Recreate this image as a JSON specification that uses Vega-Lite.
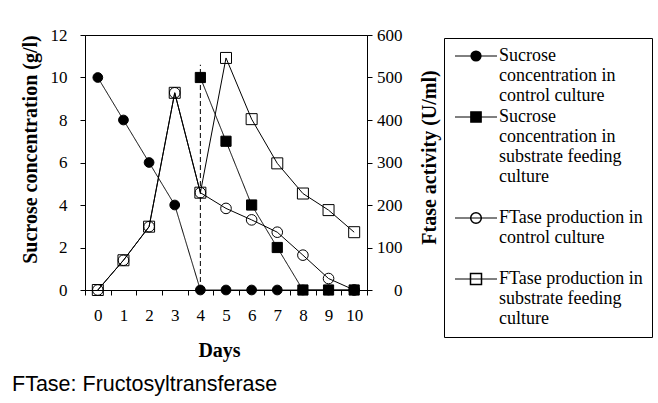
{
  "$schema": "https://vega.github.io/schema/vega-lite/v6.json",
  "width": 282,
  "height": 255,
  "autosize": {"type": "none"},
  "padding": {"left": 85, "top": 35, "right": 291, "bottom": 113},
  "background": "white",
  "title": {
    "text": "FTase: Fructosyltransferase",
    "orient": "bottom",
    "anchor": "start",
    "frame": "group",
    "font": "Liberation Sans",
    "fontSize": 21.5,
    "fontWeight": "normal",
    "color": "black",
    "dx": -73,
    "offset": 14
  },
  "config": {
    "view": {"stroke": "black", "strokeWidth": 1},
    "font": "Liberation Serif",
    "axis": {
      "labelFont": "Liberation Serif",
      "labelFontSize": 17,
      "labelColor": "black",
      "titleFont": "Liberation Serif",
      "titleFontSize": 20,
      "titleFontWeight": "bold",
      "titleColor": "black",
      "domainColor": "black",
      "tickColor": "black",
      "grid": false,
      "domainWidth": 1,
      "tickWidth": 1,
      "tickSize": 5
    },
    "legend": {
      "title": null,
      "orient": "none",
      "legendX": 359,
      "legendY": 3,
      "padding": 9,
      "labelFont": "Liberation Serif",
      "labelFontSize": 18,
      "labelLimit": 0,
      "labelOffset": 14,
      "symbolOffset": 14,
      "rowPadding": 3
    }
  },
  "datasets": {
    "sucrose": [
      {"day": 0, "series": "a", "key": "k1", "value": 10},
      {"day": 1, "series": "a", "key": "k1", "value": 8},
      {"day": 2, "series": "a", "key": "k1", "value": 6},
      {"day": 3, "series": "a", "key": "k1", "value": 4},
      {"day": 4, "series": "a", "key": "k1", "value": 0},
      {"day": 5, "series": "a", "key": "k1", "value": 0},
      {"day": 6, "series": "a", "key": "k1", "value": 0},
      {"day": 7, "series": "a", "key": "k1", "value": 0},
      {"day": 8, "series": "a", "key": "k1", "value": 0},
      {"day": 9, "series": "a", "key": "k1", "value": 0},
      {"day": 10, "series": "a", "key": "k1", "value": 0},
      {"day": 4, "series": "b", "key": "k2", "value": 10},
      {"day": 5, "series": "b", "key": "k2", "value": 7},
      {"day": 6, "series": "b", "key": "k2", "value": 4},
      {"day": 7, "series": "b", "key": "k2", "value": 2},
      {"day": 8, "series": "b", "key": "k2", "value": 0},
      {"day": 9, "series": "b", "key": "k2", "value": 0},
      {"day": 10, "series": "b", "key": "k2", "value": 0}
    ],
    "ftase": [
      {"day": 0, "series": "c", "value": 0},
      {"day": 1, "series": "c", "value": 70},
      {"day": 2, "series": "c", "value": 149},
      {"day": 3, "series": "c", "value": 464},
      {"day": 4, "series": "c", "value": 229},
      {"day": 5, "series": "c", "value": 192},
      {"day": 6, "series": "c", "value": 165},
      {"day": 7, "series": "c", "value": 136},
      {"day": 8, "series": "c", "value": 82},
      {"day": 9, "series": "c", "value": 27},
      {"day": 10, "series": "c", "value": 0},
      {"day": 0, "series": "d", "value": 0},
      {"day": 1, "series": "d", "value": 70},
      {"day": 2, "series": "d", "value": 149},
      {"day": 3, "series": "d", "value": 464},
      {"day": 4, "series": "d", "value": 229},
      {"day": 5, "series": "d", "value": 546},
      {"day": 6, "series": "d", "value": 402},
      {"day": 7, "series": "d", "value": 298},
      {"day": 8, "series": "d", "value": 227},
      {"day": 9, "series": "d", "value": 188},
      {"day": 10, "series": "d", "value": 136}
    ],
    "marker": [
      {"day": 4, "value": 0, "value2": 10.6}
    ]
  },
  "encoding": {
    "x": {
      "field": "day",
      "type": "ordinal",
      "scale": {"domain": [0, 1, 2, 3, 4, 5, 6, 7, 8, 9, 10], "paddingInner": 0, "paddingOuter": 0},
      "axis": {
        "title": "Days",
        "labelAngle": 0,
        "tickBand": "extent",
        "labelPadding": 12,
        "titleX": 134,
        "titleY": 60,
        "titleBaseline": "middle",
        "titleAlign": "center"
      }
    }
  },
  "layer": [
    {
      "encoding": {
        "y": {
          "field": "value",
          "type": "quantitative",
          "scale": {"domain": [0, 12]},
          "axis": {
            "title": "Sucrose concentration (g/l)",
            "orient": "left",
            "values": [0, 2, 4, 6, 8, 10, 12],
            "labelPadding": 13,
            "titleAngle": -90,
            "titleX": -55,
            "titleY": 114,
            "titleBaseline": "middle",
            "titleAlign": "center"
          }
        }
      },
      "layer": [
        {
          "data": {"name": "marker"},
          "mark": {"type": "rule", "color": "black", "strokeWidth": 1, "strokeDash": [5, 3]},
          "encoding": {"y2": {"field": "value2"}}
        },
        {
          "data": {"name": "sucrose"},
          "mark": {"type": "line", "color": "black", "strokeWidth": 1},
          "encoding": {
            "strokeDash": {
              "field": "key",
              "type": "nominal",
              "scale": {"domain": ["k1", "k2", "k3", "k4"], "range": [[1, 0], [1, 0], [1, 0], [1, 0]]},
              "legend": {
                "strokeColor": "black",
                "symbolType": "M-3,0H3",
                "symbolSize": 196,
                "symbolStrokeColor": "black",
                "symbolStrokeWidth": 1,
                "labelColor": "black",
                "labelExpr": "datum.value === 'k1' ? ['Sucrose', 'concentration in', 'control culture'] : datum.value === 'k2' ? ['Sucrose', 'concentration in', 'substrate feeding', 'culture', ''] : datum.value === 'k3' ? ['FTase production in', 'control culture', ''] : ['FTase production in', 'substrate feeding', 'culture']"
              }
            }
          }
        },
        {
          "data": {"name": "sucrose"},
          "mark": {"type": "point", "stroke": "black", "strokeWidth": 1, "opacity": 1},
          "encoding": {
            "shape": {
              "field": "series",
              "type": "nominal",
              "scale": {"domain": ["a", "b", "c", "d"], "range": ["circle", "square", "circle", "square"]},
              "legend": {
                "labelColor": "transparent",
                "labelExpr": "datum.value === 'a' ? ['Sucrose', 'concentration in', 'control culture'] : datum.value === 'b' ? ['Sucrose', 'concentration in', 'substrate feeding', 'culture', ''] : datum.value === 'c' ? ['FTase production in', 'control culture', ''] : ['FTase production in', 'substrate feeding', 'culture']"
              }
            },
            "fill": {
              "field": "series",
              "type": "nominal",
              "scale": {"domain": ["a", "b", "c", "d"], "range": ["black", "black", "transparent", "transparent"]}
            },
            "size": {
              "field": "series",
              "type": "nominal",
              "scale": {"domain": ["a", "b", "c", "d"], "range": [95, 121, 154, 196]}
            }
          }
        }
      ]
    },
    {
      "data": {"name": "ftase"},
      "encoding": {
        "y": {
          "field": "value",
          "type": "quantitative",
          "scale": {"domain": [0, 600]},
          "axis": {
            "title": "Ftase activity (U/ml)",
            "orient": "right",
            "values": [0, 100, 200, 300, 400, 500, 600],
            "labelAlign": "right",
            "labelPadding": 30,
            "titleAngle": -90,
            "titleX": 62,
            "titleY": 122,
            "titleBaseline": "middle",
            "titleAlign": "center"
          }
        }
      },
      "layer": [
        {
          "mark": {"type": "line", "color": "black", "strokeWidth": 1},
          "encoding": {"detail": {"field": "series"}}
        },
        {
          "mark": {"type": "point", "stroke": "black", "strokeWidth": 1, "opacity": 1},
          "encoding": {
            "shape": {
              "field": "series",
              "type": "nominal",
              "scale": {"domain": ["a", "b", "c", "d"], "range": ["circle", "square", "circle", "square"]}
            },
            "fill": {
              "field": "series",
              "type": "nominal",
              "scale": {"domain": ["a", "b", "c", "d"], "range": ["black", "black", "transparent", "transparent"]}
            },
            "size": {
              "field": "series",
              "type": "nominal",
              "scale": {"domain": ["a", "b", "c", "d"], "range": [95, 121, 154, 196]}
            }
          }
        }
      ]
    }
  ],
  "resolve": {"scale": {"y": "independent"}}
}
